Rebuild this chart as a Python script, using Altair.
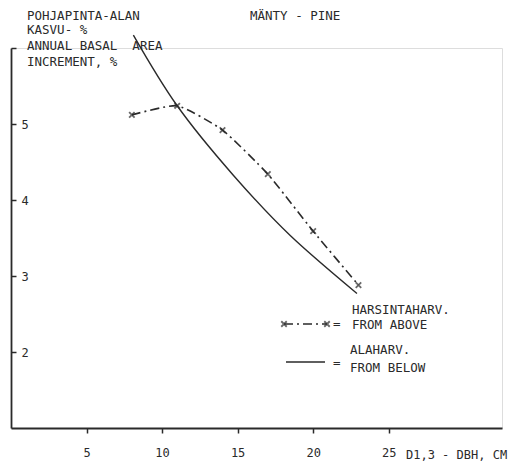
import altair as alt
import pandas as pd

# Data
dbh_above = [8, 11, 14, 17, 20, 23]
inc_above = [5.12, 5.24, 4.92, 4.34, 3.59, 2.88]

dbh_below = [8.1, 11, 14.7, 18.5, 22.9]
inc_below = [6.17, 5.24, 4.33, 3.53, 2.77]

x_ticks = [5, 10, 15, 20, 25]
y_ticks = [2, 3, 4, 5, 6]

FONT = "DejaVu Sans Mono"
INK = "#2a2a2a"
W, H = 491, 380

above = pd.DataFrame({"dbh": dbh_above, "inc": inc_above})
below = pd.DataFrame({"dbh": dbh_below, "inc": inc_below})

xs = alt.Scale(domain=[0, 32.5], nice=False, zero=False)
ys = alt.Scale(domain=[1, 6], nice=False, zero=False)

xaxis = alt.Axis(values=x_ticks, title=None, grid=False, tickSize=5, tickWidth=1.5,
                 tickColor=INK, domainColor=INK, domainWidth=1.8, labelFont=FONT,
                 labelFontSize=12, labelColor=INK, labelPadding=14, format="d")
yaxis = alt.Axis(values=y_ticks, title=None, grid=False, orient="right", offset=-W,
                 tickSize=5, tickWidth=1.5, tickColor=INK, domainColor=INK, domainWidth=1.8,
                 labelFont=FONT, labelFontSize=12, labelColor=INK, labelPadding=5,
                 format="d", labelExpr="datum.value == 6 ? '' : datum.label")

base_below = alt.Chart(below).mark_line(interpolate="natural", color=INK, strokeWidth=1.4).encode(
    x=alt.X("dbh:Q", scale=xs, axis=xaxis),
    y=alt.Y("inc:Q", scale=ys, axis=yaxis),
)

line_above = alt.Chart(above).mark_line(interpolate="cardinal", tension=0.5, color=INK,
                                        strokeWidth=1.6, strokeDash=[9, 4, 2, 4]).encode(
    x=alt.X("dbh:Q", scale=xs),
    y=alt.Y("inc:Q", scale=ys),
)

XSHAPE = "M-1,-1L1,1M-1,1L1,-1"
pts_above = alt.Chart(above).mark_point(shape=XSHAPE, size=30, stroke=INK, strokeWidth=1.8,
                                        filled=False).encode(
    x=alt.X("dbh:Q", scale=xs),
    y=alt.Y("inc:Q", scale=ys),
)

# Legend samples (layout positions in pixels)
leg_dash = alt.Chart(pd.DataFrame({"a": [0]})).mark_rule(color=INK, strokeWidth=1.6,
                                                         strokeDash=[9, 4, 2, 4]).encode(
    x=alt.value(273), x2=alt.value(316), y=alt.value(276))
leg_pts = alt.Chart(pd.DataFrame({"px": [273, 316], "py": [276, 276]})).mark_point(
    shape=XSHAPE, size=30, stroke=INK, strokeWidth=1.8, filled=False).encode(
    x=alt.X("px:Q", scale=None), y=alt.Y("py:Q", scale=None))
leg_solid = alt.Chart(pd.DataFrame({"a": [0]})).mark_rule(color=INK, strokeWidth=1.6).encode(
    x=alt.value(275), x2=alt.value(314), y=alt.value(314))

labels = ["POHJAPINTA-ALAN", "KASVU- %", "ANNUAL BASAL\u00a0\u00a0AREA", "INCREMENT, %",
          "MÄNTY - PINE", "HARSINTAHARV.", "=", "FROM ABOVE",
          "ALAHARV.", "=", "FROM BELOW"]
lx = [16, 16, 16, 16, 239, 341, 322, 341, 339, 322, 339]
ly = [-32, -18, -2, 14, -32, 262, 276, 277, 302, 315, 320]
ann = pd.DataFrame({"label": labels, "px": lx, "py": ly})
texts = alt.Chart(ann).mark_text(align="left", baseline="middle", font=FONT, fontSize=12.5,
                                 color=INK).encode(
    x=alt.X("px:Q", scale=None), y=alt.Y("py:Q", scale=None), text="label:N")

xtitle = alt.Chart(pd.DataFrame({"label": ["D1,3 - DBH, CM"]})).mark_text(
    align="left", baseline="middle", font=FONT, fontSize=12, color=INK).encode(
    x=alt.value(395), y=alt.value(407), text="label:N")

chart = alt.layer(base_below, line_above, pts_above, leg_dash, leg_pts, leg_solid, texts,
                  xtitle).properties(
    width=W, height=H,
    autosize=alt.AutoSizeParams(type="none"),
    padding={"left": 3, "top": 40, "right": 10, "bottom": 40},
).configure_view(stroke=None).configure(background="white")

chart.save("out.html", embed_options={"renderer": "svg", "actions": False})
